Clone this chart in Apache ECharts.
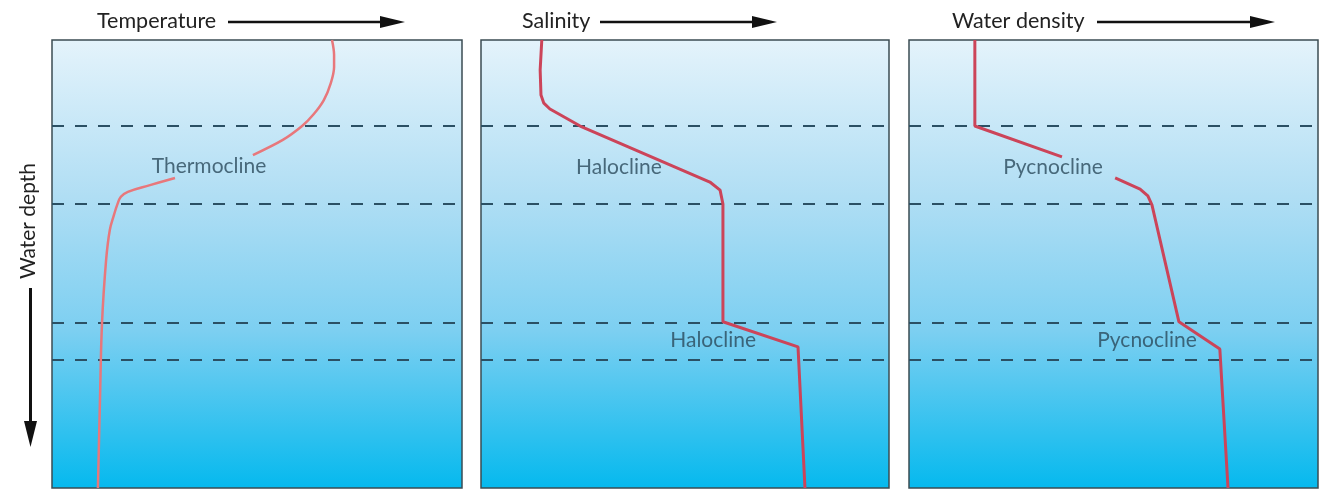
<!DOCTYPE html>
<html>
<head>
<meta charset="utf-8">
<script src="https://cdn.jsdelivr.net/npm/echarts@6/dist/echarts.min.js"></script>
<style>
html,body{margin:0;padding:0;background:#fff;}
#chart{width:1323px;height:489px;}
</style>
</head>
<body>
<div id="chart"></div>
<script>
// ---- data (x: 0-100 relative property, y: 0-100 relative depth) ----
const panelTitles = ['Temperature', 'Salinity', 'Water density'];
const depthLines = [19.2, 36.6, 63.2, 71.4];

const tempUpper = [[68.3,0],[68.8,3.3],[68.8,6.0],[68.0,9.6],[66.3,13.4],[63.7,16.7],[61.0,19.2],[56.3,22.3],[49.0,25.7]];
const tempLower = [[30.0,30.8],[23.9,32.4],[18.5,33.9],[16.8,35.0],[15.9,36.8],[15.1,39.1],[14.1,42.4],[13.2,49.1],[12.2,63.2],[11.7,80.4],[11.2,100]];

const salinity = [[14.9,0],[14.5,6.7],[14.7,12.3],[15.4,14.1],[16.9,15.4],[24.3,19.2],[56.1,31.7],[58.6,33.5],[59.3,36.6],[59.3,62.9],[77.7,68.5],[79.4,100]];

const densityUpper = [[16.1,0],[16.1,19.2],[37.4,26.1]];
const densityLower = [[50.4,30.8],[56.5,33.3],[58.4,34.8],[59.4,36.8],[66.0,62.9],[76.0,69.0],[78.0,100]];

const clineLabels = [
  {panel:0, text:'Thermocline', x:38.3, y:28.1},
  {panel:1, text:'Halocline',   x:33.8, y:28.3},
  {panel:1, text:'Halocline',   x:56.9, y:67.0},
  {panel:2, text:'Pycnocline',  x:35.2, y:28.3},
  {panel:2, text:'Pycnocline',  x:58.2, y:67.0}
];

// ---- layout ----
const grids = [
  {left:52,  top:40, width:410, height:448},
  {left:481, top:40, width:408, height:448},
  {left:909, top:40, width:409, height:448}
];
const FONT = 'Lato';
const chart = echarts.init(document.getElementById('chart'), null, {renderer:'canvas'});

function bg(){
  return new echarts.graphic.LinearGradient(0,0,0,1,[
    {offset:0, color:'#e4f3fb'},
    {offset:0.35, color:'#b0def4'},
    {offset:0.65, color:'#7ccff1'},
    {offset:1, color:'#05b9ee'}
  ]);
}

const series = [];
grids.forEach((g,i)=>{
  series.push({
    type:'line', xAxisIndex:i, yAxisIndex:i, data:[], silent:true,
    markLine:{
      silent:true, symbol:'none', label:{show:false},
      lineStyle:{type:[12,11], color:'#2b5064', width:2},
      data: depthLines.map(d=>({yAxis:d}))
    }
  });
});
const thin = {color:'#e8777b', width:2.5};
const thick = {color:'#cc4459', width:3};
series.push({type:'line', xAxisIndex:0, yAxisIndex:0, data:tempUpper, smooth:0.3, showSymbol:false, lineStyle:thin, z:5});
series.push({type:'line', xAxisIndex:0, yAxisIndex:0, data:tempLower, smooth:0.4, showSymbol:false, lineStyle:thin, z:5});
series.push({type:'line', xAxisIndex:1, yAxisIndex:1, data:salinity, smooth:false, showSymbol:false, lineStyle:thick, z:5});
series.push({type:'line', xAxisIndex:2, yAxisIndex:2, data:densityUpper, smooth:false, showSymbol:false, lineStyle:thick, z:5});
series.push({type:'line', xAxisIndex:2, yAxisIndex:2, data:densityLower, smooth:false, showSymbol:false, lineStyle:thick, z:5});
[0,1,2].forEach(p=>{
  series.push({
    type:'scatter', xAxisIndex:p, yAxisIndex:p, symbolSize:0, z:6,
    data: clineLabels.filter(l=>l.panel===p).map(l=>({value:[l.x,l.y], name:l.text})),
    label:{show:true, position:'inside', formatter:'{b}', color:'#2b4a5b', fontFamily:FONT, fontSize:21}
  });
});

const titleX = [97, 522, 952];
const arrowSpan = [[228,405],[600,777],[1097,1275]];
const graphics = [];
panelTitles.forEach((t,i)=>{
  graphics.push({type:'text', x:titleX[i], y:21, style:{text:t, font:'21.5px '+FONT, fill:'#222', verticalAlign:'middle'}});
  const [a,b] = arrowSpan[i];
  graphics.push({type:'line', shape:{x1:a, y1:22, x2:b-20, y2:22}, style:{stroke:'#111', lineWidth:2.5}});
  graphics.push({type:'polygon', shape:{points:[[b-25,16],[b-25,28],[b,22]]}, style:{fill:'#111'}});
});
graphics.push({type:'text', x:28, y:221, rotation:Math.PI/2, style:{text:'Water depth', font:'21px '+FONT, fill:'#222', align:'center', verticalAlign:'middle'}});
graphics.push({type:'line', shape:{x1:30.5, y1:288, x2:30.5, y2:428}, style:{stroke:'#111', lineWidth:3}});
graphics.push({type:'polygon', shape:{points:[[24,421],[37,421],[30.5,447]]}, style:{fill:'#111'}});

chart.setOption({
  animation:false,
  backgroundColor:'#fff',
  grid: grids.map(g=>Object.assign({show:true, backgroundColor:bg(), borderColor:'#3b4c53', borderWidth:1.5}, g)),
  xAxis: grids.map((g,i)=>({type:'value', gridIndex:i, min:0, max:100, show:false})),
  yAxis: grids.map((g,i)=>({type:'value', gridIndex:i, min:0, max:100, inverse:true, show:false})),
  series: series,
  graphic: graphics
});
</script>
</body>
</html>
